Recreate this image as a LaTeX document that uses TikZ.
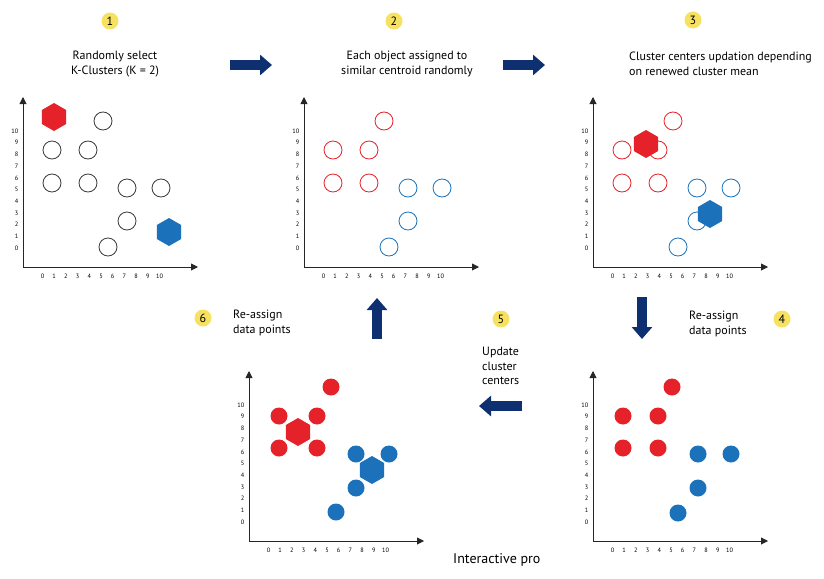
\documentclass[tikz,border=0pt]{standalone}
\usepackage{fontspec}
\setmainfont{PT Sans}
\usetikzlibrary{arrows.meta,shapes.geometric}
\definecolor{cred}{HTML}{E52129}
\definecolor{cblue}{HTML}{1B72BA}
\definecolor{navy}{HTML}{0E2F70}
\definecolor{badge}{HTML}{F6E260}
\definecolor{ring}{HTML}{3A3A3A}
\tikzset{
 axis/.style={line width=0.9pt, draw=black!85, {Triangle[length=7pt,width=7pt]}-{Triangle[length=7pt,width=7pt]}},
 tick/.style={font=\fontsize{6.3}{7}\selectfont, inner sep=0pt},
 pt/.style={circle, minimum size=18pt, inner sep=0pt},
 gring/.style={pt, draw=ring, line width=0.8pt},
 rring/.style={pt, draw=cred, line width=0.8pt},
 bring/.style={pt, draw=cblue, line width=0.8pt},
 rdot/.style={pt, fill=cred, minimum size=17pt},
 bdot/.style={pt, fill=cblue, minimum size=17pt},
 hex/.style={regular polygon, regular polygon sides=6, shape border rotate=30, minimum size=28pt, inner sep=0pt},
 num/.style={circle, fill=badge, minimum size=17pt, inner sep=0pt, font=\fontsize{12}{12}\selectfont},
 caption/.style={font=\fontsize{12}{14.5}\selectfont, inner sep=0pt},
 bigarrow/.style={line width=10pt, draw=navy, -{Triangle[length=12pt,width=20pt]}}
}
\newcommand\axes[1]{%
 \coordinate (#1o) at (0,0);
 \coordinate (#1y) at (0,-170);
 \coordinate (#1x) at (175,0);
 \draw[axis] (#1y) -- (#1o) -- (#1x);
 \foreach \i in {0,...,10}{
  \node[tick] (#1x\i) at (19.5+11.7*\i,9) {\i};
  \node[tick, anchor=east] (#1y\i) at (-4.5,-19-11.7*\i) {\i};
 }}
\begin{document}
\begin{tikzpicture}[x=1pt, y=-1pt]
\useasboundingbox (0,0) rectangle (824,578);

\node[num] (n1) at (110,21) {1};
\node[num] (n2) at (394,21) {2};
\node[num] (n3) at (693,20) {3};
\node[num] (n4) at (782,319) {4};
\node[num] (n5) at (501,319) {5};
\node[num] (n6) at (203,318) {6};

\node[caption, align=center] (t1) at (115,64) {Randomly select\\K-Clusters (K = 2)};
\node[caption, align=center] (t2) at (407,64) {Each object assigned to\\similar centroid randomly};
\node[caption, align=left, anchor=west] (t3) at (629,64) {Cluster centers updation depending\\on renewed cluster mean};
\node[caption, align=left, anchor=west] (t4) at (689,324) {Re-assign\\data points};
\node[caption, align=left, anchor=west] (t5) at (482,366) {Update\\cluster\\centers};
\node[caption, align=left, anchor=west] (t6) at (233,323) {Re-assign\\data points};
\node[font=\fontsize{14}{14}\selectfont, anchor=west, inner sep=0pt] (foot) at (453,560) {Interactive pro};

\coordinate (a1s) at (230,65); \coordinate (a1e) at (272,65);
\coordinate (a2s) at (503,65); \coordinate (a2e) at (545,65);
\coordinate (a3s) at (642,297); \coordinate (a3e) at (642,339);
\coordinate (a5s) at (522,406); \coordinate (a5e) at (479,406);
\coordinate (a6s) at (377,339); \coordinate (a6e) at (377,298);
\draw[bigarrow] (a1s) -- (a1e);
\draw[bigarrow] (a2s) -- (a2e);
\draw[bigarrow] (a3s) -- (a3e);
\draw[bigarrow] (a5s) -- (a5e);
\draw[bigarrow] (a6s) -- (a6e);

\begin{scope}[shift={(23,267)}]
 \axes{pa}
 \foreach \p [count=\k] in {(29,-117),(65,-117),(29,-84),(65,-84),(80,-146),(104,-79),(138,-79),(104,-46),(85,-20)}
  \node[gring] (pa\k) at \p {};
 \node[hex, fill=cred] (pahr) at (31,-150) {};
 \node[hex, fill=cblue] (pahb) at (146,-35) {};
\end{scope}

\begin{scope}[shift={(304,267)}]
 \axes{pb}
 \foreach \p [count=\k] in {(29,-117),(65,-117),(29,-84),(65,-84),(80,-146)}
  \node[rring] (pbr\k) at \p {};
 \foreach \p [count=\k] in {(104,-79),(138,-79),(104,-46),(85,-20)}
  \node[bring] (pbb\k) at \p {};
\end{scope}

\begin{scope}[shift={(593,267)}]
 \axes{pc}
 \foreach \p [count=\k] in {(29,-117),(65,-117),(29,-84),(65,-84),(80,-146)}
  \node[rring] (pcr\k) at \p {};
 \foreach \p [count=\k] in {(104,-79),(138,-79),(104,-46),(85,-20)}
  \node[bring] (pcb\k) at \p {};
 \node[hex, fill=cred] (pchr) at (53,-123) {};
 \node[hex, fill=cblue] (pchb) at (117,-53) {};
\end{scope}

\begin{scope}[shift={(593,541)}]
 \axes{pd}
 \foreach \p [count=\k] in {(30,-125),(65,-125),(30,-93),(65,-93),(79,-154)}
  \node[rdot] (pdr\k) at \p {};
 \foreach \p [count=\k] in {(105,-87),(138,-87),(105,-53),(85,-28)}
  \node[bdot] (pdb\k) at \p {};
\end{scope}

\begin{scope}[shift={(249,541)}]
 \axes{pf}
 \foreach \p [count=\k] in {(30,-125),(68,-125),(30,-93),(68,-93),(82,-154)}
  \node[rdot] (pfr\k) at \p {};
 \foreach \p [count=\k] in {(107,-87),(140,-87),(107,-53),(87,-29)}
  \node[bdot] (pfb\k) at \p {};
 \node[hex, fill=cred] (pfhr) at (49,-109) {};
 \node[hex, fill=cblue] (pfhb) at (123,-71) {};
\end{scope}
\end{tikzpicture}
\end{document}
